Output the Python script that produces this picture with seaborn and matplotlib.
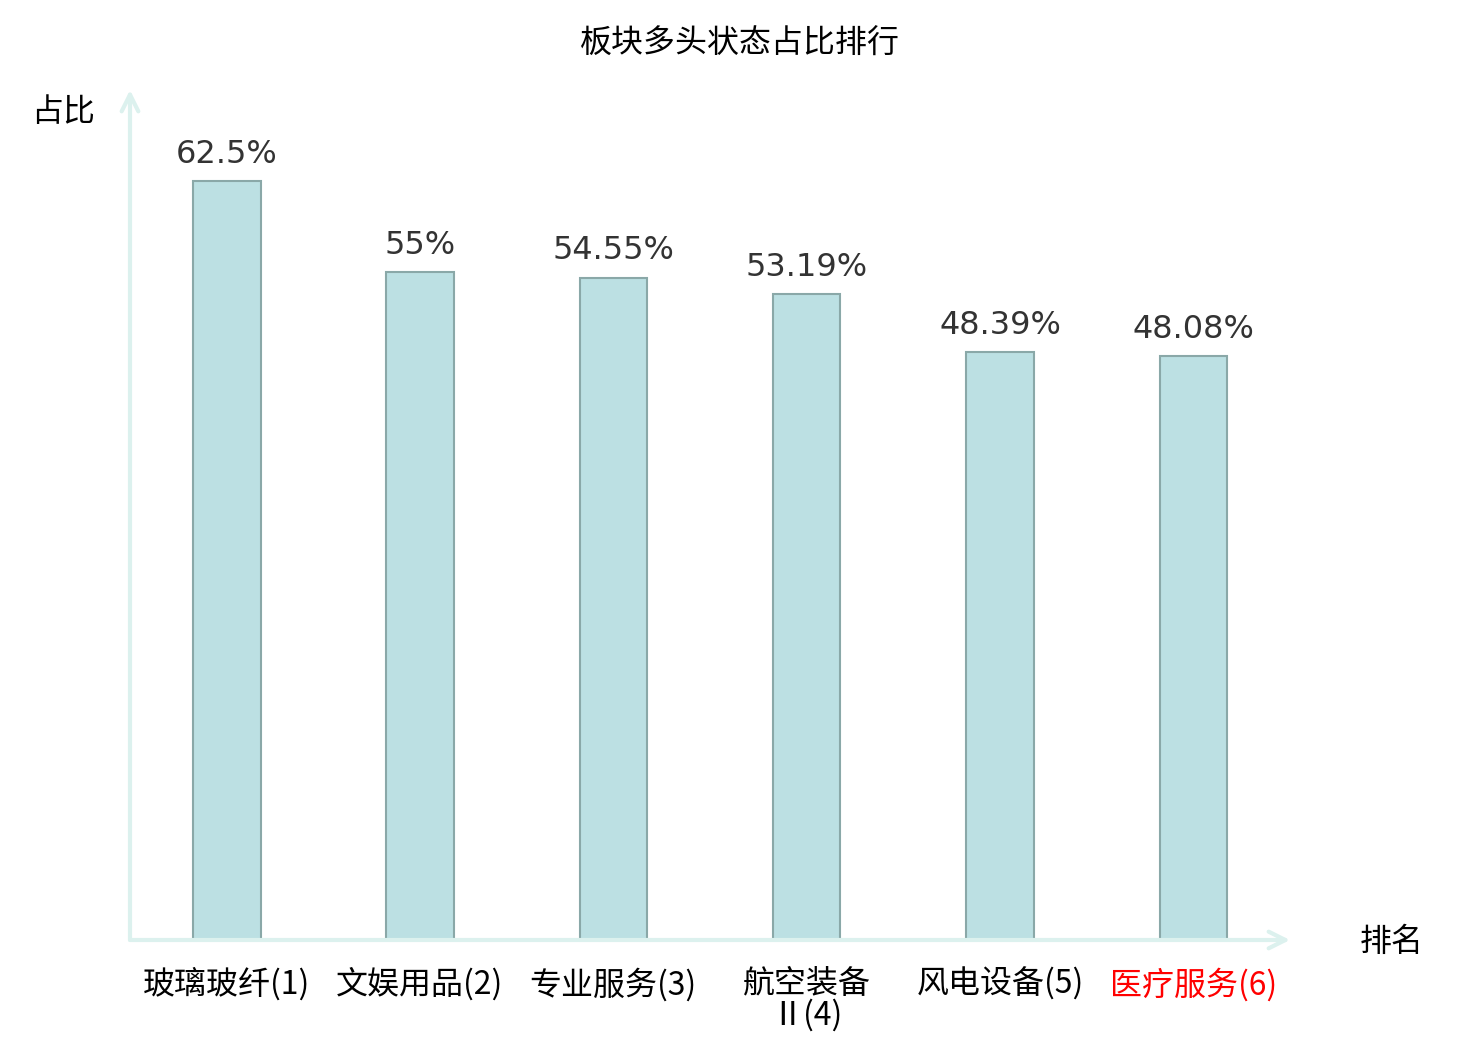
import matplotlib
matplotlib.use("Agg")
import matplotlib.pyplot as plt
import seaborn as sns

# data
sectors = ["玻璃玻纤(1)", "文娱用品(2)", "专业服务(3)", "航空装备\nⅡ(4)", "风电设备(5)", "医疗服务(6)"]
ratios = [62.5, 55, 54.55, 53.19, 48.39, 48.08]

sns.set_style("white")
plt.rcParams['font.family'] = ['Noto Sans CJK SC', 'DejaVu Sans']
plt.rcParams['text.color'] = "black"
plt.rcParams['xtick.color'] = "black"

fig = plt.figure(figsize=(14.8, 10.4), dpi=100)
ax = fig.add_axes([130 / 1480, 1 - 940 / 1040, 1160 / 1480, 850 / 1040])

sns.barplot(x=sectors, y=ratios, color="#bce0e3", edgecolor="#8aa8a8",
            linewidth=1.5, width=0.35, saturation=1, ax=ax)

ax.set_xlim(-0.5, 5.5)
ax.set_ylim(0, 70)
for s in ax.spines.values():
    s.set_visible(False)
ax.set_yticks([])
ax.set_xlabel("")
ax.set_ylabel("")
ax.tick_params(axis="x", length=0, pad=20, labelsize=23, labelcolor="black")
ticklabels = ax.get_xticklabels()
ticklabels[-1].set_color("red")
for t in ticklabels:
    t.set_linespacing(0.95)

# value labels
for i, v in enumerate(ratios):
    ax.text(i, v + 0.95, f"{v:g}%", ha="center", va="bottom", fontsize=23,
            color="#333333", family="DejaVu Sans")

# axis arrows
axis_col = "#dcf1ee"
ax.annotate("", xy=(1, 0), xytext=(0, 0), xycoords="axes fraction",
            arrowprops=dict(arrowstyle="->", color=axis_col, lw=3, mutation_scale=30,
                            shrinkA=0, shrinkB=0), annotation_clip=False)
ax.annotate("", xy=(0, 1), xytext=(0, 0), xycoords="axes fraction",
            arrowprops=dict(arrowstyle="->", color=axis_col, lw=3, mutation_scale=30,
                            shrinkA=0, shrinkB=0), annotation_clip=False)

fig.text(740 / 1480, 1 - 44 / 1040, "板块多头状态占比排行", ha="center", va="center", fontsize=23)
fig.text(63 / 1480, 1 - 112 / 1040, "占比", ha="center", va="center", fontsize=23)
fig.text(1392 / 1480, 1 - 942 / 1040, "排名", ha="center", va="center", fontsize=23)

plt.savefig("out.png", dpi=100)
